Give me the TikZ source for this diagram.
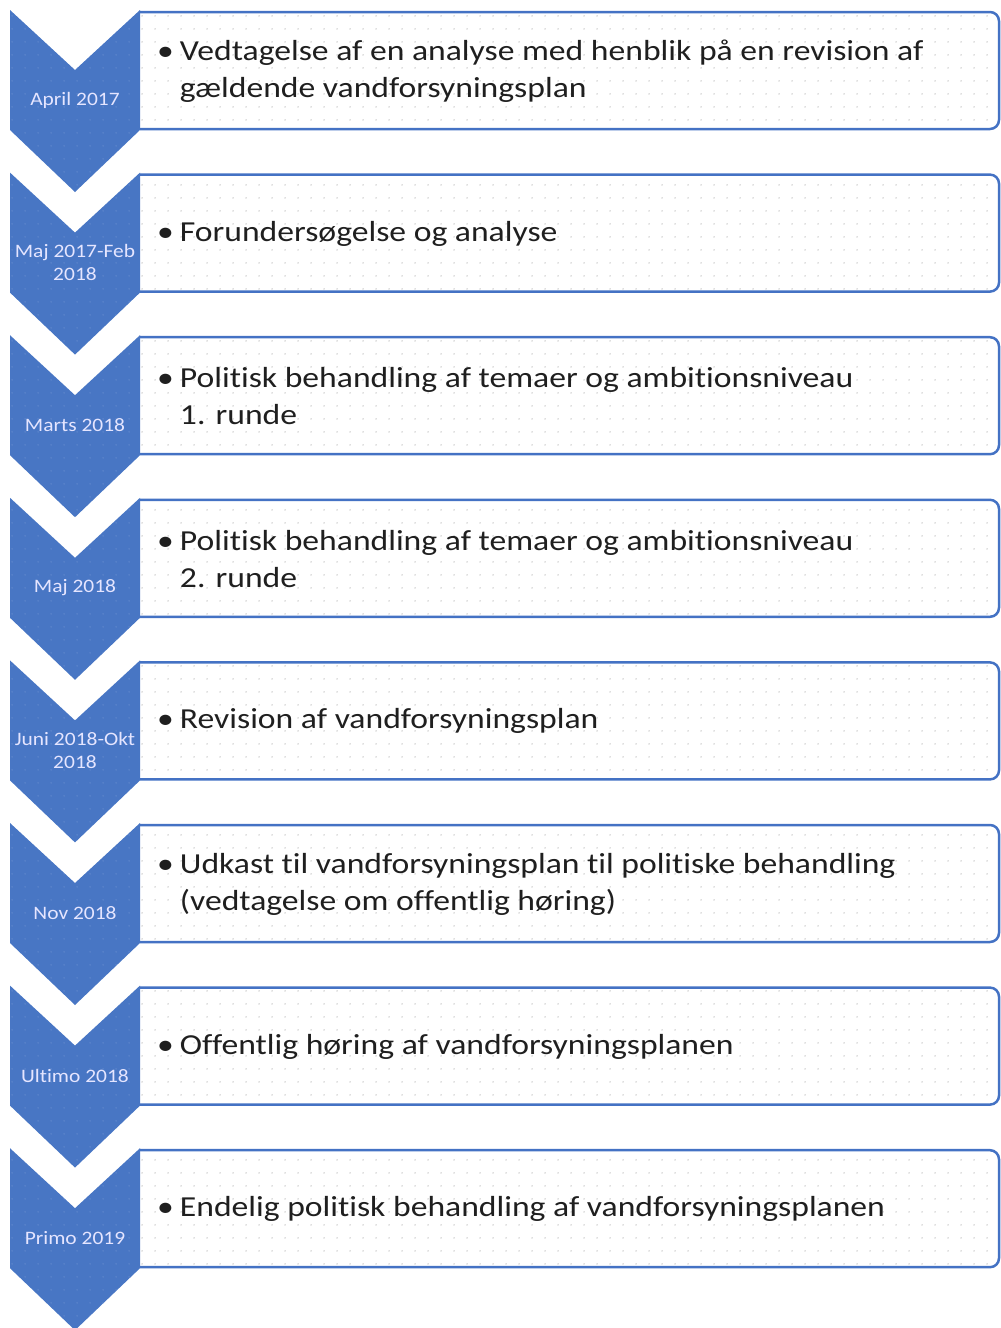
\documentclass[tikz,border=0pt]{standalone}
\usepackage{fontspec}
\setmainfont{Carlito}
\newfontfamily\itemfont[FakeStretch=1.16,Ligatures=NoCommon]{Carlito}
\newfontfamily\datefont[FakeStretch=1.13,Ligatures=NoCommon]{Carlito}
\usetikzlibrary{patterns.meta}
\definecolor{chevblue}{RGB}{72,118,196}
\definecolor{chevdot}{RGB}{130,162,218}
\definecolor{boxline}{RGB}{68,114,196}
\newcommand{\bul}{\textbullet\hspace{6pt}}
\newcommand{\nextline}{\\\phantom{\bul}}
\tikzset{
  chev/.style={fill=chevblue,draw=none},
  chevdots/.style={pattern={Dots[distance=13pt,radius=0.6pt]},pattern color=chevdot},
  stagebox/.style={draw=boxline,line width=2.5pt,rounded corners=9pt},
  boxdots/.style={pattern={Dots[distance=13pt,radius=0.75pt]},pattern color=gray!60},
  datelabel/.style={text=white!90!blue,font=\datefont\fontsize{19}{23}\selectfont,align=center,inner sep=0pt},
  itemtext/.style={text=black!88,font=\itemfont\fontsize{29}{37}\selectfont,align=left,inner sep=0pt,anchor=west}
}

\begin{document}
\begin{tikzpicture}[x=1pt,y=-1pt]
\useasboundingbox (0,0) rectangle (1001,1328);

\foreach \i/\when/\what in {
  0/{April 2017}/{Vedtagelse af en analyse med henblik på en revision af\nextline gældende vandforsyningsplan},
  1/{Maj 2017-Feb\\2018}/{Forundersøgelse og analyse},
  2/{Marts 2018}/{Politisk behandling af temaer og ambitionsniveau\nextline 1. runde},
  3/{Maj 2018}/{Politisk behandling af temaer og ambitionsniveau\nextline 2. runde},
  4/{Juni 2018-Okt\\2018}/{Revision af vandforsyningsplan},
  5/{Nov 2018}/{Udkast til vandforsyningsplan til politiske behandling\nextline (vedtagelse om offentlig høring)},
  6/{Ultimo 2018}/{Offentlig høring af vandforsyningsplanen},
  7/{Primo 2019}/{Endelig politisk behandling af vandforsyningsplanen}}
{
  \pgfmathsetmacro{\t}{10+162.6*\i}
  % text box
  \fill[white] (140,\t+2) rectangle (999,\t+119);
  \fill[boxdots] (141,\t+4) rectangle (997,\t+117);
  \draw[stagebox] (140,\t+2) -- (999,\t+2) -- (999,\t+119) -- (140,\t+119);
  % chevron
  \fill[chev] (10,\t) -- (75,\t+60) -- (140,\t) -- (140,\t+120) -- (75,\t+182) -- (10,\t+120) -- cycle;
  \fill[chevdots] (10,\t) -- (75,\t+60) -- (140,\t) -- (140,\t+120) -- (75,\t+182) -- (10,\t+120) -- cycle;
  \node[datelabel] (date\i) at (75,\t+90) {\when};
  \node[itemtext] (item\i) at (157,\t+61) {\bul\what};
}
\end{tikzpicture}
\end{document}
